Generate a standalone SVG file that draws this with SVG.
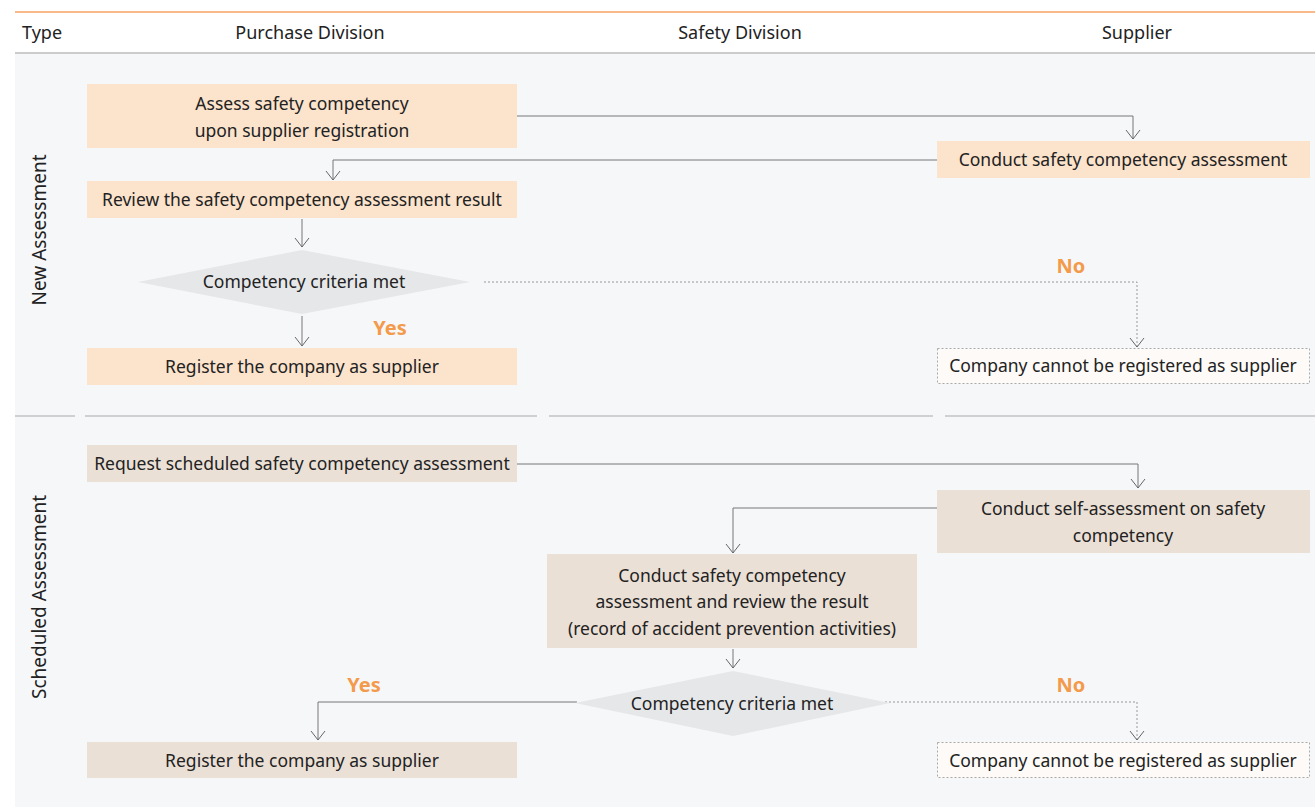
<svg xmlns="http://www.w3.org/2000/svg" width="1315" height="807" viewBox="0 0 1315 807">
<defs>
<style>
text{font-family:"Noto Sans","Open Sans","DejaVu Sans",sans-serif;fill:#222;font-size:17.5px;}
.c{text-anchor:middle;}
.hd{font-size:18px;}
.lane{font-size:19px;}
.yn{fill:#f39a4b;font-weight:bold;font-size:20px;}
.peach{fill:#fce3cc;}
.beige{fill:#ebe0d6;}
.dia{fill:#e6e7e9;}
.neg{fill:#fdfaf7;stroke:#aaa;stroke-width:1;stroke-dasharray:2 2;}
.ln{fill:none;stroke:#777;stroke-width:1;}
.dl{fill:none;stroke:#999;stroke-width:1;stroke-dasharray:2 2;}
.ar{fill:none;stroke:#666;stroke-width:1;}
.sep{stroke:#aaa;stroke-width:1.2;}
</style>
<marker id="ah" viewBox="0 0 16 11" refX="8" refY="10" markerWidth="16" markerHeight="11" markerUnits="userSpaceOnUse" orient="0">
<path d="M1,1 L8,10 L15,1" class="ar"/>
</marker>
</defs>
<rect x="0" y="0" width="1315" height="807" fill="#fff"/>
<rect x="15" y="54" width="1300" height="753" fill="#f6f7f9"/>
<line x1="15" y1="12" x2="1315" y2="12" stroke="#f9b98a" stroke-width="2"/>
<line x1="15" y1="53" x2="1315" y2="53" stroke="#999" stroke-width="1"/>
<g id="header">
<text x="22" y="39" class="hd">Type</text>
<text x="310" y="39" class="hd c">Purchase Division</text>
<text x="740" y="39" class="hd c">Safety Division</text>
<text x="1137" y="39" class="hd c">Supplier</text>
</g>
<g id="separator">
<line x1="15" y1="416" x2="75" y2="416" class="sep"/>
<line x1="85" y1="416" x2="537" y2="416" class="sep"/>
<line x1="549" y1="416" x2="933" y2="416" class="sep"/>
<line x1="945" y1="416" x2="1315" y2="416" class="sep"/>
</g>
<g id="lane-new"><text transform="translate(46,230) rotate(-90)" class="lane c">New Assessment</text></g>
<g id="lane-scheduled"><text transform="translate(46,597) rotate(-90)" class="lane c">Scheduled Assessment</text></g>

<g id="connectors">
<path d="M517,116 H1133 V139" class="ln" marker-end="url(#ah)"/>
<path d="M937,160 H333 V180" class="ln" marker-end="url(#ah)"/>
<path d="M302,219 V247" class="ln" marker-end="url(#ah)"/>
<path d="M302,316 V346" class="ln" marker-end="url(#ah)"/>
<path d="M484,282 H1137 V347" class="dl" marker-end="url(#ah)"/>
<path d="M517,464 H1138 V488" class="ln" marker-end="url(#ah)"/>
<path d="M937,508 H733 V553" class="ln" marker-end="url(#ah)"/>
<path d="M733,649 V668" class="ln" marker-end="url(#ah)"/>
<path d="M577,702 H318 V740" class="ln" marker-end="url(#ah)"/>
<path d="M885,702 H1137 V740" class="dl" marker-end="url(#ah)"/>
</g>

<g id="n1"><rect x="87" y="84" width="430" height="64" class="peach"/>
<text x="302" y="110" class="c">Assess safety competency</text>
<text x="302" y="137" class="c">upon supplier registration</text></g>
<g id="n2"><rect x="937" y="141" width="373" height="37" class="peach"/>
<text x="1123" y="166" class="c">Conduct safety competency assessment</text></g>
<g id="n3"><rect x="87" y="181" width="430" height="37" class="peach"/>
<text x="302" y="206" class="c">Review the safety competency assessment result</text></g>
<g id="n4"><polygon points="138,282 302,250 470,282 302,314" class="dia"/>
<text x="304" y="288" class="c">Competency criteria met</text></g>
<g id="n5"><rect x="87" y="348" width="430" height="37" class="peach"/>
<text x="302" y="373" class="c">Register the company as supplier</text></g>
<g id="n6"><rect x="937.5" y="348.5" width="372" height="35" class="neg"/>
<text x="1123" y="372" class="c">Company cannot be registered as supplier</text></g>
<g id="lbl1"><text x="390" y="335" class="yn c">Yes</text><text x="1071" y="273" class="yn c">No</text></g>

<g id="m1"><rect x="87" y="445" width="430" height="37" class="beige"/>
<text x="302" y="470" class="c">Request scheduled safety competency assessment</text></g>
<g id="m2"><rect x="937" y="490" width="373" height="63" class="beige"/>
<text x="1123" y="515" class="c">Conduct self-assessment on safety</text>
<text x="1123" y="542" class="c">competency</text></g>
<g id="m3"><rect x="547" y="554" width="370" height="94" class="beige"/>
<text x="732" y="582" class="c">Conduct safety competency</text>
<text x="732" y="608" class="c">assessment and review the result</text>
<text x="732" y="635" class="c">(record of accident prevention activities)</text></g>
<g id="m4"><polygon points="575,703 733,671 890,703 733,736" class="dia"/>
<text x="732" y="710" class="c">Competency criteria met</text></g>
<g id="m5"><rect x="87" y="742" width="430" height="36" class="beige"/>
<text x="302" y="767" class="c">Register the company as supplier</text></g>
<g id="m6"><rect x="937.5" y="742.5" width="372" height="35" class="neg"/>
<text x="1123" y="767" class="c">Company cannot be registered as supplier</text></g>
<g id="lbl2"><text x="364" y="692" class="yn c">Yes</text><text x="1071" y="692" class="yn c">No</text></g>
</svg>
